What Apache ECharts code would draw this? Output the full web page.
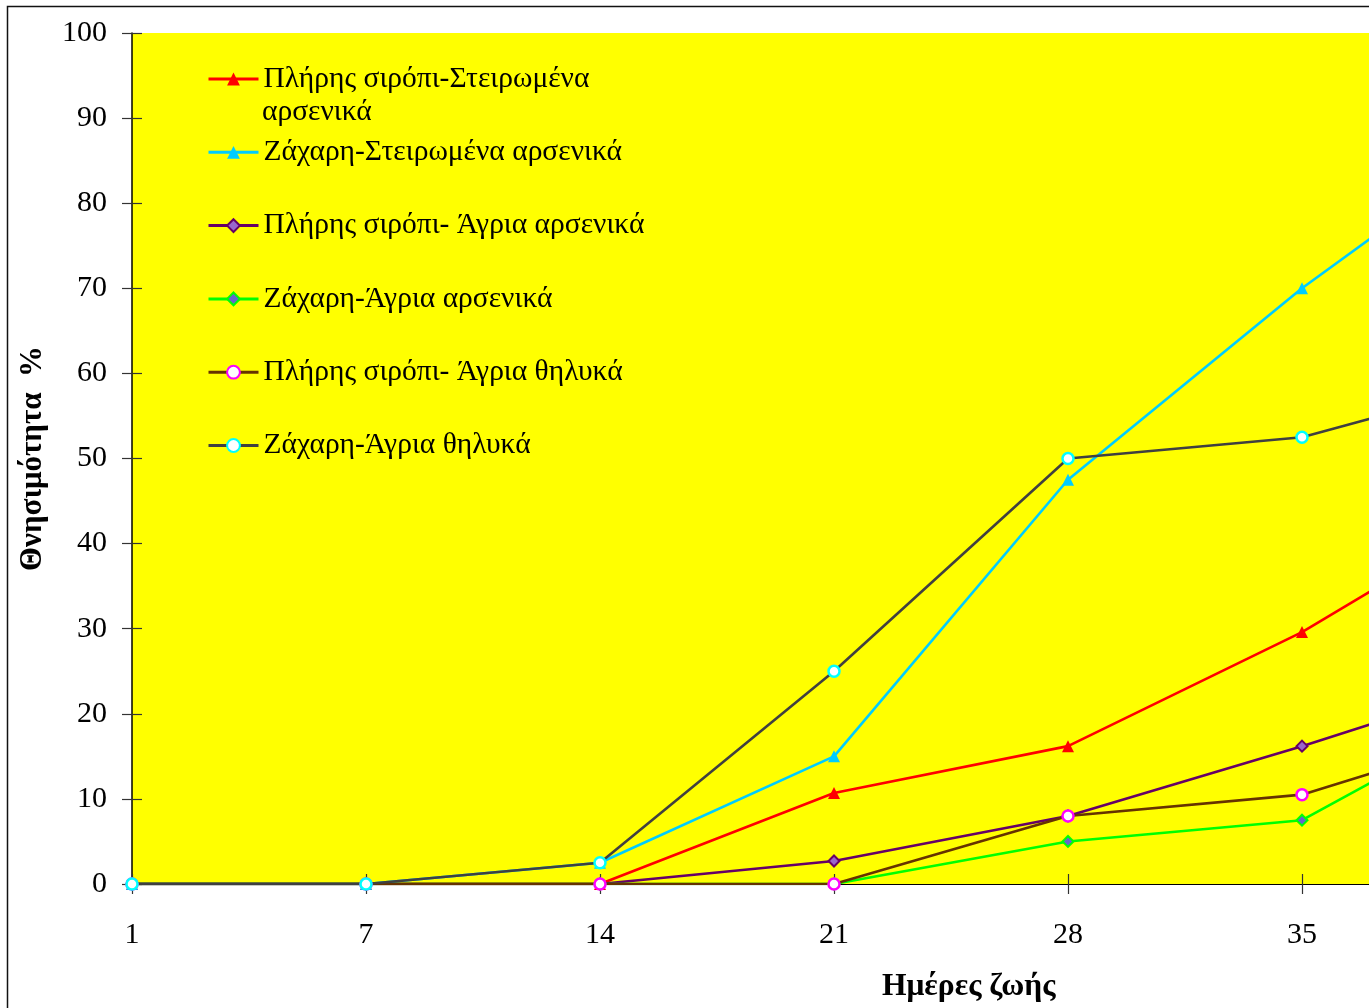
<!DOCTYPE html>
<html>
<head>
<meta charset="utf-8">
<script src="https://cdn.jsdelivr.net/npm/echarts@6/dist/echarts.min.js"></script>
<style>
  html, body { margin: 0; padding: 0; overflow: hidden; background: #fff; }
  #chart { width: 1700px; height: 1008px; }
</style>
</head>
<body>
<div id="chart"></div>
<script>
// Days of life (x categories)
const days = ['1', '7', '14', '21', '28', '35', '42'];

// Mortality % per group
const syrupSterileMales = [0, 0, 0, 10.7, 16.2, 29.6, 46];
const sugarSterileMales = [0, 0, 2.5, 15, 47.5, 70, 90];
const syrupWildMales = [0, 0, 0, 2.7, 8, 16.2, 25];
const sugarWildMales = [0, 0, 0, 0, 5, 7.5, 22.5];
const syrupWildFemales = [0, 0, 0, 0, 8, 10.5, 19];
const sugarWildFemales = [0, 0, 2.5, 25, 50, 52.5, 60];

const seriesNames = [
  'Πλήρης σιρόπι-Στειρωμένα αρσενικά',
  'Ζάχαρη-Στειρωμένα αρσενικά',
  'Πλήρης σιρόπι- Άγρια αρσενικά',
  'Ζάχαρη-Άγρια αρσενικά',
  'Πλήρης σιρόπι- Άγρια θηλυκά',
  'Ζάχαρη-Άγρια θηλυκά'
];

const FONT = "'Liberation Serif', 'DejaVu Serif', serif";

function lineSeries(name, data, lineColor, symbol, size, fill, border, borderW) {
  return {
    name: name,
    type: 'line',
    data: data,
    xAxisIndex: 0,
    yAxisIndex: 0,
    symbol: symbol,
    symbolSize: size,
    showAllSymbol: true,
    lineStyle: { color: lineColor, width: 2.6 },
    itemStyle: { color: fill, borderColor: border, borderWidth: borderW },
    emphasis: { disabled: true },
    animation: false
  };
}

const chart = echarts.init(document.getElementById('chart'));

chart.setOption({
  animation: false,
  backgroundColor: '#ffffff',
  grid: {
    left: 132, top: 33, width: 1404, height: 851,
    show: true, backgroundColor: '#ffff00', borderWidth: 0
  },
  legend: {
    orient: 'vertical',
    left: 207,
    top: 64,
    padding: 0,
    itemWidth: 50,
    itemHeight: 16,
    itemGap: 43.3,
    data: seriesNames,
    selectedMode: false,
    lineStyle: { width: 3 },
    textStyle: { fontFamily: FONT, fontSize: 29.5, color: '#000' },
    formatter: function (name) {
      return name === seriesNames[0] ? 'Πλήρης σιρόπι-Στειρωμένα' : name;
    }
  },
  xAxis: [
    {
      type: 'category',
      data: days,
      boundaryGap: false,
      axisLine: { lineStyle: { color: '#000', width: 1.2 } },
      axisTick: { show: true, length: 10, lineStyle: { color: '#333', width: 1.2 } },
      axisLabel: { fontFamily: FONT, fontSize: 30, color: '#000', margin: 36 },
      splitLine: { show: false }
    },
    {
      type: 'category',
      data: days,
      boundaryGap: false,
      position: 'bottom',
      axisLine: { show: false },
      axisTick: { show: true, inside: true, length: 10, lineStyle: { color: '#333', width: 1.2 } },
      axisLabel: { show: false },
      splitLine: { show: false }
    }
  ],
  yAxis: [
    {
      type: 'value',
      min: 0, max: 100, interval: 10,
      name: 'Θνησιμότητα  %',
      nameLocation: 'middle',
      nameGap: 84,
      nameTextStyle: { fontFamily: FONT, fontSize: 31, fontWeight: 'bold', color: '#000' },
      axisLine: { show: true, lineStyle: { color: '#000', width: 1.5 } },
      axisTick: { show: true, length: 10, lineStyle: { color: '#333', width: 1.2 } },
      axisLabel: { fontFamily: FONT, fontSize: 30, color: '#000', margin: 25 },
      splitLine: { show: false }
    },
    {
      type: 'value',
      min: 0, max: 100, interval: 10,
      position: 'left',
      axisLine: { show: false },
      axisTick: { show: true, inside: true, length: 10, lineStyle: { color: '#333', width: 1.2 } },
      axisLabel: { show: false },
      splitLine: { show: false }
    }
  ],
  graphic: [
    {
      type: 'rect',
      shape: { x: 7.5, y: 6.5, width: 2000, height: 2000 },
      style: { fill: 'none', stroke: '#111', lineWidth: 1.5 },
      silent: true
    },
    {
      type: 'text',
      left: 262, top: 97,
      style: { text: 'αρσενικά', font: "29.5px " + FONT, fill: '#000' }
    },
    {
      type: 'text',
      left: 882, top: 971,
      style: { text: 'Ημέρες ζωής', font: "bold 31.5px " + FONT, fill: '#000' }
    }
  ],
  series: [
    lineSeries(seriesNames[0], syrupSterileMales, '#ff0000', 'triangle', 12, '#ff0000', '#ff0000', 0),
    lineSeries(seriesNames[1], sugarSterileMales, '#00ccff', 'triangle', 12, '#00ccff', '#00ccff', 0),
    lineSeries(seriesNames[2], syrupWildMales, '#660066', 'diamond', 11, '#9966cc', '#660066', 2),
    lineSeries(seriesNames[3], sugarWildMales, '#00ff00', 'diamond', 11, '#6666cc', '#00ff00', 2),
    lineSeries(seriesNames[4], syrupWildFemales, '#663300', 'circle', 11, '#ffffff', '#ff00ff', 2.5),
    lineSeries(seriesNames[5], sugarWildFemales, '#404040', 'circle', 11, '#ffffff', '#00ffff', 2.5)
  ]
});
</script>
</body>
</html>
